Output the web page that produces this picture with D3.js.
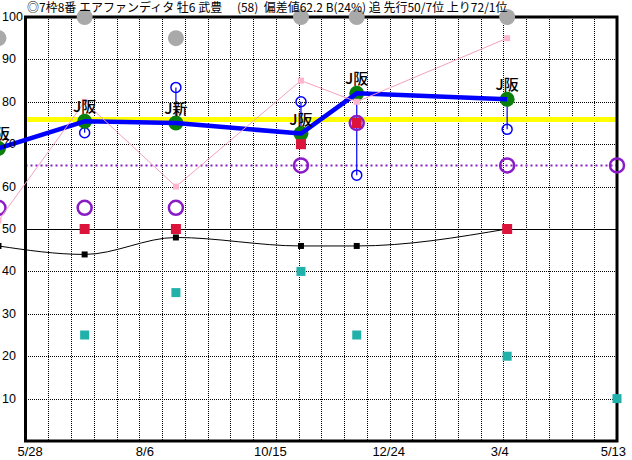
<!DOCTYPE html>
<html><head><meta charset="utf-8">
<script src="https://cdn.jsdelivr.net/npm/d3@7"></script>
<style>
html,body{margin:0;padding:0;background:#fff;}
svg{display:block;}
text{font-family:"Liberation Sans",Arial,sans-serif;}
.jp{font-family:"Noto Sans CJK JP","Noto Sans",sans-serif;}
</style></head>
<body><svg id="c" width="632" height="460"></svg>
<script>
// ---- data ----
const titleText = "◎7枠8番 エアファンディタ 牡6 武豊　 (58)  偏差値62.2 B(24%) 追 先行50/7位 上り72/1位";
const raceDates = ["2017-05-12","2017-07-02","2017-08-25","2017-11-07","2017-12-10","2018-03-09","2018-05-13"];
const courseLabels = ["J阪","J阪","J新","J阪","J阪","J阪",null];
const greenValues = [69, 75.4, 75, 72.5, 82, 80.6, null];
const blueOpenValues = [null, 72.7, 83.4, 80, 62.7, 73.5, null];
const purpleValues = [55, 55, 55, 65, 75, 65, 65];
const redValues = [null, 50, 50, 70, 75, 50, null];
const blackValues = [46, 44, 48, 46, 46, 50, null];
const cyanValues = [null, 25, 35, 40, 25, 20, 10];
const pinkValues = [52, 80, 60, 85, 80, 95, null];
const grayValues = [95, 100, 95, 100, 100, 100, null];
const yellowLevel = 75.8;
const purpleLevel = 65;
const baseLevel = 50;
const xTickDates = ["2017-05-28","2017-08-06","2017-10-15","2017-12-24","2018-03-04","2018-05-13"];
const xTickLabels = ["5/28","8/6","10/15","12/24","3/4","5/13"];
const yTickValues = [100,90,80,70,60,50,40,30,20,10];
const verticalGridCount = 26;

// ---- layout ----
const W = 632, H = 460;
const L = 25.5, R = 617, T = 17, B = 441;
const parse = d3.utcParse("%Y-%m-%d");
const x = d3.scaleUtc().domain([parse(xTickDates[0]), parse(xTickDates[xTickDates.length-1])]).range([L, R]);
const y = d3.scaleLinear().domain([0, 100]).range([B, T]);
const gx = d3.scaleLinear().domain([0, verticalGridCount]).range([L, R]);

const svg = d3.select("#c");
svg.append("rect").attr("width", W).attr("height", H).attr("fill", "#fff");

const pts = raceDates.map((d, i) => ({
  x: x(parse(d)), label: courseLabels[i], g: greenValues[i], bo: blueOpenValues[i],
  p: purpleValues[i], r: redValues[i], k: blackValues[i], c: cyanValues[i],
  pk: pinkValues[i], gr: grayValues[i]
}));

// grid
const grid = svg.append("g").attr("shape-rendering", "crispEdges");
grid.selectAll("line.v").data(d3.range(1, verticalGridCount)).join("line")
  .attr("x1", d => Math.round(gx(d)) + 0.5).attr("x2", d => Math.round(gx(d)) + 0.5)
  .attr("y1", T).attr("y2", B).attr("stroke", "#000").attr("stroke-width", 1).attr("stroke-dasharray", "1,1");
grid.selectAll("line.h").data(yTickValues.filter(v => v !== 100 && v !== baseLevel)).join("line")
  .attr("x1", L).attr("x2", R)
  .attr("y1", d => Math.round(y(d)) + 0.5).attr("y2", d => Math.round(y(d)) + 0.5)
  .attr("stroke", "#000").attr("stroke-width", 1).attr("stroke-dasharray", "1,1");
grid.append("line").attr("x1", L).attr("x2", R)
  .attr("y1", Math.round(y(baseLevel)) + 0.5).attr("y2", Math.round(y(baseLevel)) + 0.5)
  .attr("stroke", "#000").attr("stroke-width", 1);

// reference lines
svg.append("line").attr("x1", L).attr("x2", R).attr("y1", y(yellowLevel)).attr("y2", y(yellowLevel))
  .attr("stroke", "#ffff00").attr("stroke-width", 5);
svg.append("line").attr("x1", L).attr("x2", R).attr("y1", y(purpleLevel)).attr("y2", y(purpleLevel))
  .attr("stroke", "#8a1cc8").attr("stroke-width", 2).attr("stroke-dasharray", "2,3");

// frame
svg.append("rect").attr("x", L).attr("y", T).attr("width", R - L).attr("height", B - T)
  .attr("fill", "none").attr("stroke", "#000").attr("stroke-width", 3);

// black curve
const kp = pts.filter(d => d.k != null);
svg.append("path").datum(kp)
  .attr("d", d3.line().x(d => d.x).y(d => y(d.k)).curve(d3.curveMonotoneX))
  .attr("fill", "none").attr("stroke", "#000").attr("stroke-width", 1);
svg.selectAll("rect.k").data(kp).join("rect")
  .attr("x", d => d.x - 3).attr("y", d => y(d.k) - 3).attr("width", 6).attr("height", 6).attr("fill", "#000");

// blue thin stems + open circles
const bp = pts.filter(d => d.bo != null && d.g != null);
svg.selectAll("line.stem").data(bp).join("line")
  .attr("x1", d => d.x).attr("x2", d => d.x).attr("y1", d => y(d.g)).attr("y2", d => y(d.bo))
  .attr("stroke", "#0000ff").attr("stroke-width", 1.2);
svg.selectAll("circle.bo").data(bp).join("circle")
  .attr("cx", d => d.x).attr("cy", d => y(d.bo)).attr("r", 5)
  .attr("fill", "none").attr("stroke", "#0000ff").attr("stroke-width", 1.5);

// purple rings
svg.selectAll("circle.p").data(pts.filter(d => d.p != null)).join("circle")
  .attr("cx", d => d.x).attr("cy", d => y(d.p)).attr("r", 7)
  .attr("fill", "none").attr("stroke", "#8a1cc8").attr("stroke-width", 2.5);

// cyan squares
svg.selectAll("rect.c").data(pts.filter(d => d.c != null)).join("rect")
  .attr("x", d => d.x - 4.5).attr("y", d => y(d.c) - 4.5).attr("width", 9).attr("height", 9).attr("fill", "#20b2aa");

// green circles
const gp = pts.filter(d => d.g != null);
svg.selectAll("circle.g").data(gp).join("circle")
  .attr("cx", d => d.x).attr("cy", d => y(d.g)).attr("r", 7.5).attr("fill", "#0a800a");

// red squares
svg.selectAll("rect.r").data(pts.filter(d => d.r != null)).join("rect")
  .attr("x", d => d.x - 5).attr("y", d => y(d.r) - 5).attr("width", 10).attr("height", 10).attr("fill", "#dc143c");

// blue thick line
svg.append("path").datum(gp)
  .attr("d", d3.line().x(d => d.x).y(d => y(d.g)))
  .attr("fill", "none").attr("stroke", "#0000ff").attr("stroke-width", 4.5).attr("stroke-linejoin", "round");

// pink line
const pp = pts.filter(d => d.pk != null);
svg.append("path").datum(pp)
  .attr("d", d3.line().x(d => d.x).y(d => y(d.pk)))
  .attr("fill", "none").attr("stroke", "#f4a0c0").attr("stroke-width", 1);
svg.selectAll("rect.pk").data(pp).join("rect")
  .attr("x", d => d.x - 3).attr("y", d => y(d.pk) - 3).attr("width", 6).attr("height", 6).attr("fill", "#ffb6cc");

// course labels
svg.selectAll("text.lab").data(gp.filter(d => d.label)).join("text")
  .attr("class", "jp").attr("x", d => d.x).attr("y", d => y(d.g) - 9)
  .attr("text-anchor", "middle").attr("font-size", 15).attr("font-weight", 500).attr("fill", "#000").text(d => d.label);

// gray circles
svg.selectAll("circle.gr").data(pts.filter(d => d.gr != null)).join("circle")
  .attr("cx", d => d.x).attr("cy", d => y(d.gr)).attr("r", 8).attr("fill", "#a9a9a9");

// y labels
svg.selectAll("text.yl").data(yTickValues).join("text")
  .attr("x", 2).attr("y", d => y(d)).attr("dominant-baseline", "central")
  .attr("font-size", 12.5).attr("fill", "#000").text(d => d);

// x labels
svg.selectAll("text.xl").data(xTickDates.map((d, i) => ({d: parse(d), t: xTickLabels[i]}))).join("text")
  .attr("y", 456).attr("font-size", 13).attr("fill", "#000").text(d => d.t)
  .attr("x", function(d) {
    const w = this.getComputedTextLength();
    return Math.min(x(d.d) - 8, W - 6 - w);
  });

// title
svg.append("text").attr("class", "jp").attr("x", 27).attr("y", 12).attr("font-size", 12)
  .style("white-space", "pre").attr("fill", "#000").text(titleText);
</script></body></html>
